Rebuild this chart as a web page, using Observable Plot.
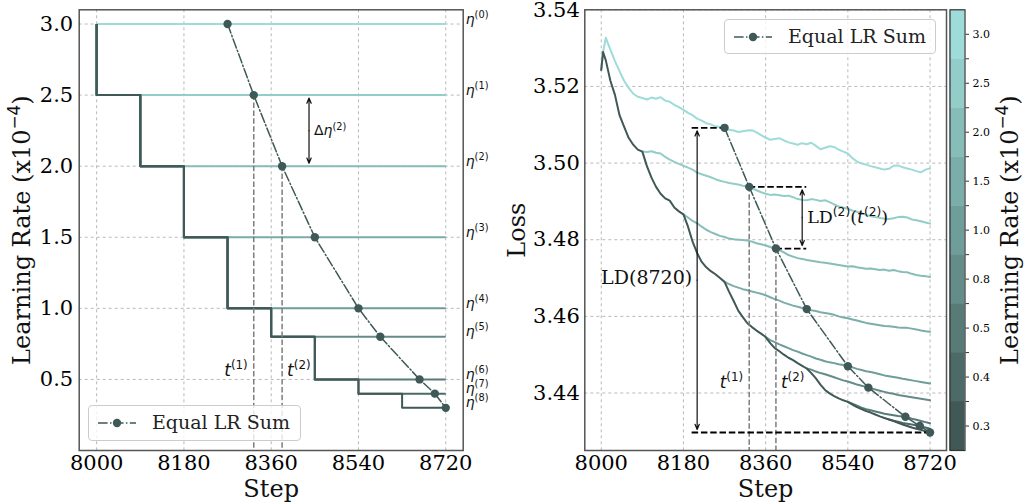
<!DOCTYPE html>
<html>
<head>
<meta charset="utf-8">
<script src="https://cdn.jsdelivr.net/npm/d3@7"></script>
<script src="https://cdn.jsdelivr.net/npm/@observablehq/plot@0.6"></script>
<style>
  body { margin: 0; background: white; font-family: "DejaVu Serif", serif; }
  #root { position: relative; width: 1030px; height: 504px; background: white; overflow: hidden; }
  #root > svg { position: absolute; top: 0; }
  .legend { position: absolute; box-sizing: border-box; border: 1px solid #cccccc; border-radius: 4px; background: rgba(255,255,255,0.8); }
  .legend svg { position: absolute; }
  .legend span { position: absolute; font-family: "DejaVu Serif", serif; font-size: 19px; color: #222; white-space: nowrap; line-height: 1; }
</style>
</head>
<body>
<div id="root"></div>
<script>
// ---------------- data ----------------
const lrLevels = [3.0, 2.5, 2.0, 1.5, 1.0, 0.8, 0.5, 0.4, 0.3];
const lrTicks = [0.5, 1.0, 1.5, 2.0, 2.5, 3.0];
const stepTicks = [8000, 8180, 8360, 8540, 8720];
const lossTicks = [3.44, 3.46, 3.48, 3.50, 3.52, 3.54];
// step at which each schedule reaches its level
const scheduleStarts = [8000, 8000, 8090, 8180, 8270, 8360, 8450, 8540, 8630];
const finalStep = 8720;
// Equal LR Sum points
const eqSteps = [8270, 8324, 8382.5, 8450, 8540, 8585, 8666, 8697.5, 8720];
const eqLoss = [3.5092, 3.4938, 3.4777, 3.4619, 3.4470, 3.4414, 3.4338, 3.4314, 3.4297];

// loss curves: common step grid, each curve covers the tail of the grid from its branch step
const lossSteps = [8000, 8004, 8010, 8020, 8030, 8040, 8050, 8060, 8070, 8080,
  8090, 8100, 8110, 8120, 8130, 8140, 8150, 8160, 8170, 8180,
  8190, 8200, 8210, 8220, 8230, 8240, 8250, 8260, 8270, 8280,
  8290, 8300, 8310, 8320, 8330, 8340, 8350, 8360, 8370, 8380,
  8390, 8400, 8410, 8420, 8430, 8440, 8450, 8460, 8470, 8480,
  8490, 8500, 8510, 8520, 8530, 8540, 8550, 8560, 8570, 8580,
  8590, 8600, 8610, 8620, 8630, 8640, 8650, 8660, 8670, 8680,
  8690, 8700, 8710, 8720];
const lossEta0 = [3.5243, 3.5290, 3.5327, 3.5296, 3.5266, 3.5240, 3.5215, 3.5196, 3.5181, 3.5173,
  3.5170, 3.5166, 3.5171, 3.5168, 3.5172, 3.5163, 3.5160, 3.5152, 3.5146, 3.5139,
  3.5131, 3.5125, 3.5116, 3.5111, 3.5104, 3.5101, 3.5096, 3.5094, 3.5092, 3.5087,
  3.5085, 3.5081, 3.5083, 3.5085, 3.5086, 3.5080, 3.5073, 3.5066, 3.5061, 3.5063,
  3.5065, 3.5059, 3.5054, 3.5051, 3.5048, 3.5052, 3.5049, 3.5053, 3.5045, 3.5036,
  3.5040, 3.5044, 3.5042, 3.5035, 3.5030, 3.5025, 3.5013, 3.5004, 3.4999, 3.4996,
  3.4992, 3.4989, 3.4986, 3.4983, 3.4985, 3.4993, 3.4994, 3.4989, 3.4986, 3.4983,
  3.4979, 3.4976, 3.4983, 3.4986];
const lossEta1 = [3.5030, 3.5029, 3.5031, 3.5027, 3.5025, 3.5016, 3.5009, 3.5003, 3.4998, 3.4993,
  3.4988, 3.4983, 3.4975, 3.4971, 3.4967, 3.4963, 3.4958, 3.4954, 3.4951, 3.4948,
  3.4946, 3.4944, 3.4941, 3.4939, 3.4934, 3.4929, 3.4924, 3.4920, 3.4917, 3.4918,
  3.4916, 3.4914, 3.4915, 3.4911, 3.4906, 3.4904, 3.4903, 3.4906, 3.4904, 3.4901,
  3.4903, 3.4898, 3.4892, 3.4887, 3.4884, 3.4881, 3.4876, 3.4873, 3.4869, 3.4865,
  3.4861, 3.4859, 3.4857, 3.4855, 3.4854, 3.4856, 3.4859, 3.4860, 3.4858, 3.4853,
  3.4851, 3.4848, 3.4845, 3.4842];
const lossEta2 = [3.4866,
  3.4858, 3.4849, 3.4843, 3.4834, 3.4826, 3.4820, 3.4815, 3.4810, 3.4807, 3.4803,
  3.4801, 3.4800, 3.4799, 3.4798, 3.4795, 3.4791, 3.4788, 3.4785, 3.4781, 3.4778,
  3.4773, 3.4767, 3.4760, 3.4756, 3.4752, 3.4750, 3.4747, 3.4745, 3.4743, 3.4741,
  3.4740, 3.4738, 3.4736, 3.4734, 3.4732, 3.4730, 3.4731, 3.4728, 3.4726, 3.4724,
  3.4725, 3.4723, 3.4721, 3.4722, 3.4719, 3.4721, 3.4718, 3.4716, 3.4715, 3.4711,
  3.4708, 3.4706, 3.4705, 3.4703];
const lossEta3 = [3.4690, 3.4684,
  3.4679, 3.4675, 3.4671, 3.4668, 3.4665, 3.4662, 3.4659, 3.4655, 3.4650, 3.4645,
  3.4641, 3.4636, 3.4632, 3.4628, 3.4625, 3.4622, 3.4619, 3.4616, 3.4614, 3.4611,
  3.4609, 3.4607, 3.4604, 3.4600, 3.4597, 3.4595, 3.4592, 3.4589, 3.4586, 3.4583,
  3.4581, 3.4579, 3.4577, 3.4575, 3.4574, 3.4573, 3.4571, 3.4570, 3.4570, 3.4568,
  3.4566, 3.4563, 3.4561, 3.4560];
const lossEta4 = [3.4546, 3.4538, 3.4533,
  3.4527, 3.4522, 3.4517, 3.4512, 3.4508, 3.4503, 3.4499, 3.4495, 3.4490, 3.4487,
  3.4483, 3.4480, 3.4478, 3.4475, 3.4473, 3.4470, 3.4467, 3.4463, 3.4460, 3.4457,
  3.4455, 3.4452, 3.4449, 3.4446, 3.4444, 3.4442, 3.4440, 3.4437, 3.4435, 3.4433,
  3.4431, 3.4429, 3.4427, 3.4425];
const lossEta5 = [3.4464, 3.4461, 3.4456, 3.4452,
  3.4449, 3.4445, 3.4441, 3.4437, 3.4433, 3.4430, 3.4426, 3.4422, 3.4419, 3.4416,
  3.4412, 3.4409, 3.4406, 3.4403, 3.4400, 3.4398, 3.4395, 3.4393, 3.4391, 3.4389,
  3.4387, 3.4385, 3.4383, 3.4381];
const lossEta6 = [3.4377, 3.4372, 3.4367, 3.4362, 3.4358,
  3.4355, 3.4352, 3.4349, 3.4346, 3.4344, 3.4342, 3.4340, 3.4339, 3.4337, 3.4333,
  3.4330, 3.4327, 3.4324, 3.4321];
const lossEta7 = [3.4331, 3.4328, 3.4325, 3.4322, 3.4320, 3.4318, 3.4316, 3.4313, 3.4310, 3.4307];
const lossEta8 = [3.5243, 3.5290, 3.5268, 3.5215, 3.5178, 3.5125, 3.5095, 3.5066, 3.5048, 3.5035,
  3.5030, 3.4992, 3.4962, 3.4938, 3.4920, 3.4908, 3.4902, 3.4884, 3.4874, 3.4866,
  3.4834, 3.4795, 3.4765, 3.4742, 3.4728, 3.4718, 3.4710, 3.4700, 3.4690, 3.4664,
  3.4640, 3.4615, 3.4598, 3.4582, 3.4572, 3.4563, 3.4555, 3.4546, 3.4530, 3.4517,
  3.4509, 3.4500, 3.4492, 3.4486, 3.4478, 3.4471, 3.4464, 3.4452, 3.4438, 3.4422,
  3.4408, 3.4399, 3.4392, 3.4386, 3.4381, 3.4377, 3.4370, 3.4363, 3.4358, 3.4353,
  3.4349, 3.4344, 3.4339, 3.4335, 3.4331, 3.4327, 3.4322, 3.4318, 3.4314, 3.4310,
  3.4307, 3.4304, 3.4300, 3.4297];

// annotation anchors (data coordinates)
const deltaEtaStep = 8438;
const deltaEtaLabelLr = 2.216;
const tLabelLr = 0.522;
const tLabelLoss = 3.4413;
const ldStep = 8210;          // LD(8720) arrow
const ldLineStart = 8199;     // dashed guide start
const ld2Step = 8440;         // LD(2)(t(2)) arrow
const ld2LineEnd = 8450;
const ldLabelLoss = 3.4684;
const ld2LabelLoss = 3.4843;

// ---------------- style ----------------
const levelColors = ["#9ddcd8", "#92cdc9", "#87bdb9", "#7badaa", "#6f9d9a", "#648c89", "#587b78", "#4c6a67", "#405856"];
const eqColor = "#3e5957";
const gridColor = "#b9b9b9";
const frameColor = "#555555";
const tLineColor = "#7d7d7d";
const serif = "DejaVu Serif";

// ---------------- derived tables ----------------
const scheduleRows = [];
lrLevels.forEach((lv, k) => {
  for (let j = 0; j <= k; j++) {
    const s0 = scheduleStarts[j];
    const s1 = j < k ? scheduleStarts[j + 1] : finalStep;
    scheduleRows.push({k, level: lv, step: s0, lr: lrLevels[j]});
    scheduleRows.push({k, level: lv, step: s1, lr: lrLevels[j]});
  }
});
const lossCurves = [lossEta0, lossEta1, lossEta2, lossEta3, lossEta4, lossEta5, lossEta6, lossEta7, lossEta8];
const lossRows = [];
lossCurves.forEach((vals, k) => {
  const off = lossSteps.length - vals.length;
  vals.forEach((v, i) => lossRows.push({k, level: lrLevels[k], step: lossSteps[off + i], loss: v}));
});
const eqLeft = eqSteps.map((s, i) => ({step: s, lr: lrLevels[i]}));
const eqRight = eqSteps.map((s, i) => ({step: s, loss: eqLoss[i]}));

const colorScale = {type: "ordinal", domain: lrLevels, range: levelColors};
const gridOpts = {stroke: gridColor, strokeOpacity: 1, strokeDasharray: "3,3", strokeWidth: 1};

// ---------------- left panel ----------------
const dEtaMid = (lrLevels[1] + lrLevels[2]) / 2;
const left = Plot.plot({
  width: 520, height: 504,
  marginLeft: 78.7, marginRight: 57.3, marginTop: 9.3, marginBottom: 54,
  style: {fontFamily: serif, background: "none", overflow: "visible"},
  x: {domain: [7964, 8756], axis: null},
  y: {domain: [0, 3.1], axis: null},
  color: colorScale,
  marks: [
    Plot.gridX(stepTicks, gridOpts),
    Plot.gridY(lrTicks, gridOpts),
    Plot.axisX(stepTicks, {tickSize: 0, tickPadding: 5, fontSize: 21, tickFormat: d => String(d), label: null}),
    Plot.axisY(lrTicks, {tickSize: 0, tickPadding: 6, fontSize: 21, tickFormat: d => d.toFixed(1), label: null}),
    Plot.line(scheduleRows, {x: "step", y: "lr", z: "k", stroke: "level", strokeWidth: 2, strokeLinecap: "butt"}),
    Plot.ruleX([1, 2], {x: i => eqSteps[i], y1: i => lrLevels[i], y2: () => 0, stroke: tLineColor, strokeWidth: 1.5, strokeDasharray: "5.5,2.4"}),
    Plot.line(eqLeft, {x: "step", y: "lr", stroke: eqColor, strokeWidth: 1.5, strokeDasharray: "9.6,2.4,1.5,2.4"}),
    Plot.dot(eqLeft, {x: "step", y: "lr", r: 4.2, fill: eqColor}),
    Plot.arrow([lrLevels[1], lrLevels[2]], {x1: () => deltaEtaStep, x2: () => deltaEtaStep, y1: () => dEtaMid, y2: d => d,
      stroke: "#111", strokeWidth: 1.2, headLength: 7, headAngle: 45, insetEnd: 3}),
    Plot.text(["Δ~{η}^{(2)}"], {x: () => deltaEtaStep, y: () => deltaEtaLabelLr, text: d => d, textAnchor: "start", lineAnchor: "bottom",
      dx: 5, fontFamily: "DejaVu Sans", fontSize: 14, fill: "#111"}),
    Plot.text(lrLevels, {y: d => d, frameAnchor: "right", text: (d, i) => `~{η}^{(${i})}`, textAnchor: "start", lineAnchor: "bottom",
      dx: 2.5, dy: -0.5, fontFamily: "DejaVu Sans", fontSize: 14, fill: "#111"}),
    Plot.text([1], {x: i => eqSteps[i], y: () => tLabelLr, text: i => `~{t}^{(${i})}`, textAnchor: "end", lineAnchor: "bottom",
      dx: -6, fontFamily: "DejaVu Sans", fontSize: 17, fill: "#111"}),
    Plot.text([2], {x: i => eqSteps[i], y: () => tLabelLr, text: i => `~{t}^{(${i})}`, textAnchor: "start", lineAnchor: "bottom",
      dx: 5, fontFamily: "DejaVu Sans", fontSize: 17, fill: "#111"}),
    Plot.text(["Step"], {frameAnchor: "bottom", text: d => d, textAnchor: "middle", lineAnchor: "middle", dy: 39, fontSize: 24, fill: "#111"}),
    Plot.text(["Learning Rate (x10^{−4})"], {frameAnchor: "left", text: d => d, textAnchor: "middle", lineAnchor: "middle",
      rotate: -90, dx: -57, fontSize: 24, fill: "#111"}),
    Plot.frame({stroke: frameColor, strokeWidth: 1.5})
  ]
});

// ---------------- right panel ----------------
const ldMid = (eqLoss[0] + eqLoss[8]) / 2;
const ld2Mid = (eqLoss[1] + eqLoss[2]) / 2;
const ldGuides = [
  {y: eqLoss[0], x1: ldLineStart, x2: eqSteps[0]},
  {y: eqLoss[8], x1: ldLineStart, x2: eqSteps[8]},
  {y: eqLoss[1], x1: eqSteps[1], x2: ld2LineEnd},
  {y: eqLoss[2], x1: eqSteps[2], x2: ld2LineEnd}
];
const ldArrows = [
  {x: ldStep, from: ldMid, to: eqLoss[0]},
  {x: ldStep, from: ldMid, to: eqLoss[8]},
  {x: ld2Step, from: ld2Mid, to: eqLoss[1]},
  {x: ld2Step, from: ld2Mid, to: eqLoss[2]}
];
const right = Plot.plot({
  width: 428, height: 504,
  marginLeft: 64.3, marginRight: 2, marginTop: 9.3, marginBottom: 54,
  style: {fontFamily: serif, background: "none", overflow: "visible"},
  x: {domain: [7964, 8756], axis: null},
  y: {domain: [3.425, 3.54], axis: null},
  color: colorScale,
  marks: [
    Plot.gridX(stepTicks, gridOpts),
    Plot.gridY(lossTicks, gridOpts),
    Plot.axisX(stepTicks, {tickSize: 0, tickPadding: 5, fontSize: 21, tickFormat: d => String(d), label: null}),
    Plot.axisY(lossTicks, {tickSize: 0, tickPadding: 5, fontSize: 21, tickFormat: d => d.toFixed(2), label: null}),
    Plot.line(lossRows, {x: "step", y: "loss", z: "k", stroke: "level", strokeWidth: 2}),
    Plot.ruleX([1, 2], {x: i => eqSteps[i], y1: i => eqLoss[i], y2: () => 3.425, stroke: tLineColor, strokeWidth: 1.5, strokeDasharray: "5.5,2.4"}),
    Plot.ruleY(ldGuides, {y: "y", x1: "x1", x2: "x2", stroke: "#000", strokeWidth: 1.8, strokeDasharray: "6.5,2.8"}),
    Plot.arrow(ldArrows, {x1: "x", x2: "x", y1: "from", y2: "to", stroke: "#111", strokeWidth: 1.2, headLength: 7, headAngle: 45, insetEnd: 3}),
    Plot.line(eqRight, {x: "step", y: "loss", stroke: eqColor, strokeWidth: 1.5, strokeDasharray: "9.6,2.4,1.5,2.4"}),
    Plot.dot(eqRight, {x: "step", y: "loss", r: 4.2, fill: eqColor}),
    Plot.text(["LD(8720)"], {x: () => ldStep, y: () => ldLabelLoss, text: d => d, textAnchor: "end", lineAnchor: "bottom", dx: -5, fontSize: 19, fill: "#111"}),
    Plot.text(["LD^{(2)}(~{t}^{(2)})"], {x: () => ld2Step, y: () => ld2LabelLoss, text: d => d, textAnchor: "start", lineAnchor: "bottom", dx: 5, fontSize: 17.5, fill: "#111"}),
    Plot.text([1], {x: i => eqSteps[i], y: () => tLabelLoss, text: i => `~{t}^{(${i})}`, textAnchor: "end", lineAnchor: "bottom",
      dx: -6, fontFamily: "DejaVu Sans", fontSize: 17, fill: "#111"}),
    Plot.text([2], {x: i => eqSteps[i], y: () => tLabelLoss, text: i => `~{t}^{(${i})}`, textAnchor: "start", lineAnchor: "bottom",
      dx: 5, fontFamily: "DejaVu Sans", fontSize: 17, fill: "#111"}),
    Plot.text(["Step"], {frameAnchor: "bottom", text: d => d, textAnchor: "middle", lineAnchor: "middle", dy: 39, fontSize: 24, fill: "#111"}),
    Plot.text(["Loss"], {frameAnchor: "left", text: d => d, textAnchor: "middle", lineAnchor: "middle", rotate: -90, dx: -67, fontSize: 24, fill: "#111"}),
    Plot.frame({stroke: frameColor, strokeWidth: 1.5})
  ]
});

// ---------------- colorbar ----------------
const cbCenters = lrLevels.map((d, i) => i + 0.5);
const cbBounds = lrLevels.slice(1).map((d, i) => i + 1);
const cbar = Plot.plot({
  width: 84, height: 504,
  marginLeft: 3.5, marginRight: 65.5, marginTop: 9.3, marginBottom: 54,
  style: {fontFamily: serif, background: "none", overflow: "visible"},
  x: {domain: [0, 1], axis: null},
  y: {domain: [0, lrLevels.length], reverse: true, axis: null},
  color: colorScale,
  marks: [
    Plot.rect(lrLevels, {x1: () => 0, x2: () => 1, y1: (d, i) => i, y2: (d, i) => i + 1, fill: d => d}),
    Plot.axisY(cbCenters, {anchor: "right", tickSize: 3.5, tickPadding: 4, fontSize: 11, stroke: "#333",
      tickFormat: c => lrLevels[c - 0.5].toFixed(1), label: null}),
    Plot.axisY(cbBounds, {anchor: "right", tickSize: 3.5, stroke: "#333", tickFormat: () => "", label: null}),
    Plot.frame({stroke: "#333", strokeWidth: 1.2}),
    Plot.text(["Learning Rate (x10^{−4})"], {frameAnchor: "right", text: d => d, textAnchor: "middle", lineAnchor: "middle",
      rotate: -90, dx: 45, fontSize: 24, fill: "#111"})
  ]
});

// ---------------- assemble ----------------
const root = document.getElementById("root");
function place(svg, x) { svg.style.left = x + "px"; root.appendChild(svg); }
place(left, 0);
place(right, 520);
place(cbar, 946);

function legend(x, y, w, h) {
  const div = document.createElement("div");
  div.className = "legend";
  Object.assign(div.style, {left: x + "px", top: y + "px", width: w + "px", height: h + "px"});
  div.innerHTML = `<svg width="40" height="12" style="left:8px;top:${h / 2 - 7}px">
      <line x1="1" x2="39" y1="6" y2="6" stroke="${eqColor}" stroke-width="1.5" stroke-dasharray="9.6,2.4,1.5,2.4"/>
      <circle cx="20" cy="6" r="4.2" fill="${eqColor}"/></svg>
    <span style="left:63px;top:${h / 2 - 11}px">Equal LR Sum</span>`;
  root.appendChild(div);
}
legend(88, 405, 213, 36);
legend(724, 19, 212, 35);

// rich text: ^{..} superscript, ~{..} italic math
function richify(svg) {
  const NS = "http://www.w3.org/2000/svg";
  for (const t of svg.querySelectorAll("text")) {
    const s = t.textContent;
    if (!/[\^~]\{/.test(s)) continue;
    const fs = parseFloat(getComputedStyle(t).fontSize) || 16;
    const parts = s.split(/(\^\{[^}]*\}|~\{[^}]*\})/).filter(p => p);
    t.textContent = "";
    let up = false;
    for (const p of parts) {
      const ts = document.createElementNS(NS, "tspan");
      if (p.startsWith("^{")) {
        ts.textContent = p.slice(2, -1);
        ts.setAttribute("font-size", (0.7 * fs) + "px");
        ts.setAttribute("font-family", "DejaVu Sans");
        if (!up) ts.setAttribute("dy", (-0.42 * fs) + "px");
        up = true;
      } else {
        const it = p.startsWith("~{");
        ts.textContent = it ? p.slice(2, -1) : p;
        if (it) { ts.setAttribute("font-style", "italic"); ts.setAttribute("font-family", "DejaVu Sans"); }
        if (up) ts.setAttribute("dy", (0.42 * fs) + "px");
        up = false;
      }
      t.appendChild(ts);
    }
  }
}
[left, right, cbar].forEach(richify);
</script>
</body>
</html>
